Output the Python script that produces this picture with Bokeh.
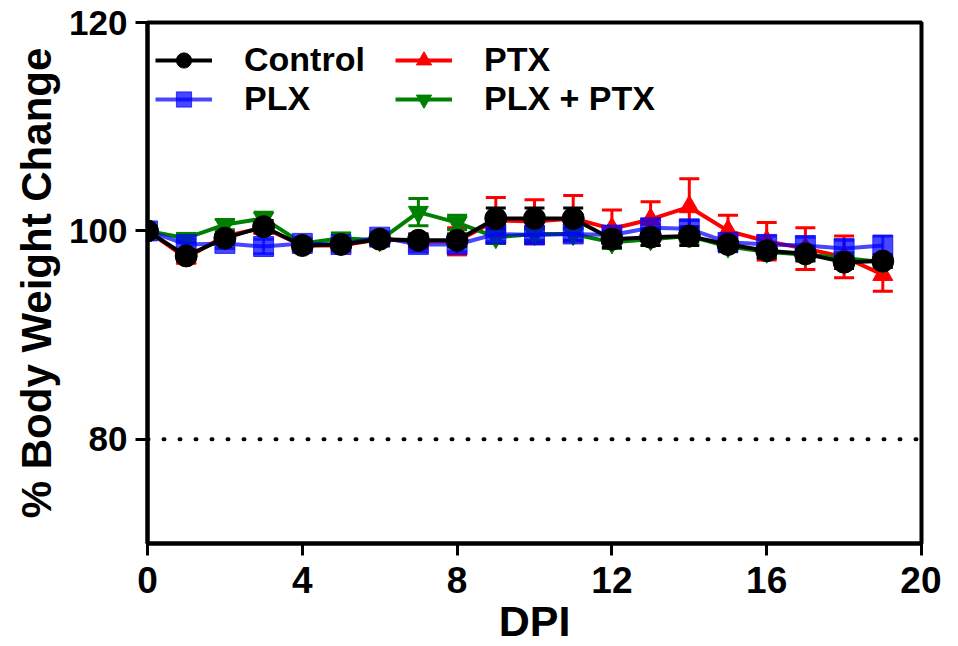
from bokeh.plotting import figure
from bokeh.models import (ColumnDataSource, Range1d, FixedTicker, Whisker, TeeHead,
                          Legend, LegendItem, Span)
from bokeh.embed import file_html
from bokeh.resources import INLINE

# ---- data ----
days = list(range(20))
control = [100, 97.6, 99.3, 100.4, 98.6, 98.7, 99.2, 99.1, 99.1, 101.2,
           101.2, 101.2, 99.2, 99.4, 99.5, 98.7, 98.1, 97.8, 97.0, 97.1]
control_sem = [0.3, 0.5, 0.5, 0.6, 0.4, 0.5, 0.5, 0.6, 0.6, 1.0,
               1.0, 1.0, 0.8, 0.8, 0.9, 0.6, 0.7, 0.7, 0.6, 0.6]
plx = [100, 98.7, 98.8, 98.5, 98.8, 98.7, 99.4, 98.7, 98.7, 99.7,
       99.6, 99.7, 99.6, 100.3, 100.2, 98.9, 98.7, 98.6, 98.3, 98.6]
plx_sem = [0.3, 0.5, 0.5, 0.7, 0.5, 0.5, 0.5, 0.7, 0.7, 0.7,
           0.7, 0.6, 0.7, 0.8, 0.8, 0.6, 0.8, 0.8, 0.8, 0.9]
ptx = [100, 97.4, 99.5, 100.3, 98.6, 98.6, 99.2, 99.0, 99.0, 101.0,
       100.9, 101.2, 100.2, 101.1, 102.3, 100.0, 99.0, 98.3, 97.5, 95.8]
ptx_sem = [0.3, 0.5, 0.5, 0.5, 0.4, 0.5, 0.5, 0.7, 1.3, 2.2,
           2.1, 2.2, 1.8, 1.7, 2.7, 1.5, 1.8, 2.0, 2.0, 1.6]
plx_ptx = [100, 99.3, 100.6, 101.2, 98.8, 99.3, 99.1, 101.8, 100.8, 99.4,
           99.7, 99.7, 98.9, 99.2, 99.5, 98.5, 98.0, 97.7, 97.4, 97.0]
plx_ptx_sem = [0.3, 0.4, 0.5, 0.6, 0.4, 0.5, 0.5, 1.3, 0.7, 0.6,
               0.6, 0.6, 0.6, 0.6, 0.6, 0.5, 0.5, 0.5, 0.5, 0.5]
threshold = 80
x_ticks = [0, 4, 8, 12, 16, 20]
y_ticks = [80, 100, 120]

FONT = "Liberation Sans"

p = figure(frame_width=774, frame_height=521, min_border_left=147, min_border_top=22,
           min_border_right=20, min_border_bottom=20,
           x_range=Range1d(0, 20), y_range=Range1d(70, 120),
           output_backend="svg", toolbar_location=None)
p.grid.visible = False
p.outline_line_color = "black"
p.outline_line_width = 4
p.outline_line_alpha = 1
p.background_fill_color = "white"
p.border_fill_color = "white"

for ax in (p.xaxis[0], p.yaxis[0]):
    ax.axis_line_width = 4
    ax.major_tick_line_width = 3
    ax.major_tick_out = 12
    ax.major_tick_in = 0
    ax.minor_tick_line_color = None
    ax.major_label_text_font = FONT
    ax.major_label_text_font_style = "bold"
    ax.axis_label_text_font = FONT
    ax.axis_label_text_font_style = "bold"
    ax.major_label_text_color = "black"
    ax.axis_label_text_color = "black"

p.xaxis.ticker = FixedTicker(ticks=x_ticks)
p.yaxis.ticker = FixedTicker(ticks=y_ticks)
p.xaxis.major_label_text_font_size = "37px"
p.yaxis.major_label_text_font_size = "35px"
p.xaxis.major_label_standoff = 11
p.yaxis.major_label_standoff = 8
p.xaxis.axis_label = "DPI"
p.yaxis.axis_label = "% Body Weight Change"
p.xaxis.axis_label_text_font_size = "43px"
p.yaxis.axis_label_text_font_size = "42px"
p.xaxis.axis_label_standoff = 1
p.yaxis.axis_label_standoff = 6

# threshold dotted line
p.add_layout(Span(location=threshold, dimension="width", line_color="black",
                  line_width=4, line_dash="1 15", line_cap="round"))

series = [
    ("PTX", ptx, ptx_sem, "#ff0000", 1.0, "triangle", 20),
    ("PLX + PTX", plx_ptx, plx_ptx_sem, "#008000", 1.0, "inverted_triangle", 20),
    ("PLX", plx, plx_sem, "#0000ff", 0.72, "square", 20),
    ("Control", control, control_sem, "#000000", 1.0, "circle", 22),
]
items = {}
for name, vals, sem, color, alpha, marker, msize in series:
    src = ColumnDataSource(dict(x=days, y=vals,
                                lo=[v - s for v, s in zip(vals, sem)],
                                hi=[v + s for v, s in zip(vals, sem)]))
    w = Whisker(source=src, base="x", lower="lo", upper="hi",
                line_color=color, line_width=3, line_alpha=alpha,
                upper_head=TeeHead(size=20, line_color=color, line_width=3, line_alpha=alpha),
                lower_head=TeeHead(size=20, line_color=color, line_width=3, line_alpha=alpha))
    p.add_layout(w)
    lr = p.line("x", "y", source=src, line_color=color, line_width=4, line_alpha=alpha)
    sr = p.scatter("x", "y", source=src, marker=marker, size=msize,
                   fill_color=color, line_color=color, fill_alpha=alpha, line_alpha=alpha)
    items[name] = LegendItem(label=name, renderers=[lr, sr])

def make_legend(names, loc):
    lg = Legend(items=[items[n] for n in names], location=loc,
                orientation="vertical", glyph_width=57, glyph_height=38,
                label_height=38, spacing=0, label_standoff=32, padding=0, margin=0,
                border_line_alpha=0, background_fill_alpha=0,
                label_text_font=FONT, label_text_font_style="bold",
                label_text_font_size="34px", label_text_color="black")
    return lg

p.add_layout(make_legend(["Control", "PLX"], (8, 425)))
p.add_layout(make_legend(["PTX", "PLX + PTX"], (248, 425)))

open("out.html", "w").write(file_html(p, INLINE))
